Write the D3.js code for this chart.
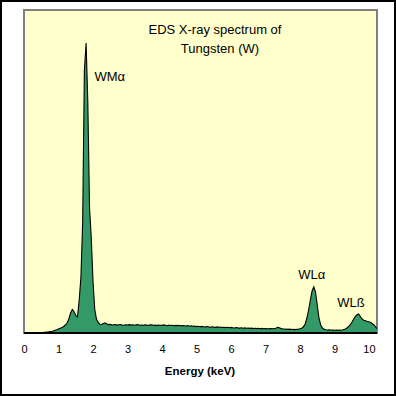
<!DOCTYPE html>
<html>
<head>
<meta charset="utf-8">
<script src="https://cdn.jsdelivr.net/npm/d3@7"></script>
<style>
  body { margin: 0; background: #fff; }
  text { font-family: "Liberation Sans", Arial, sans-serif; }
</style>
</head>
<body>
<div id="chart"></div>
<script>
"use strict";

// EDS spectrum of tungsten, one value per 0.05 keV channel starting at 0 keV
var channelWidth = 0.05;
var counts = [
    0, 0, 0, 0, 0, 0, 0, 0, 0, 0,
    3, 5, 8, 10, 9, 14, 15, 20, 28, 32,
    40, 48, 55, 65, 80, 100, 140, 200, 235, 215,
    175, 160, 330, 560, 1100, 2620, 2900, 2300, 1250, 950,
    520, 240, 140, 105, 88, 85, 95, 102, 90, 84,
    86, 80, 83, 85, 79, 82, 84, 80, 78, 83,
    80, 84, 79, 82, 77, 81, 84, 78, 80, 76,
    82, 79, 75, 81, 83, 77, 79, 74, 80, 78,
    76, 81, 77, 73, 79, 75, 78, 72, 76, 74,
    77, 71, 75, 73, 70, 74, 68, 72, 66, 70,
    64, 68, 62, 66, 63, 60, 65, 61, 58, 63,
    59, 56, 61, 57, 60, 55, 58, 54, 57, 52,
    56, 53, 50, 55, 51, 49, 53, 48, 51, 47,
    50, 46, 49, 45, 48, 44, 47, 43, 46, 42,
    45, 43, 41, 44, 42, 45, 48, 57, 52, 44,
    42, 38, 40, 36, 39, 35, 37, 34, 36, 38,
    42, 48, 62, 90, 150, 230, 330, 420, 462, 410,
    280, 150, 80, 50, 38, 33, 30, 32, 28, 30,
    27, 29, 26, 30, 28, 32, 38, 48, 62, 80,
    105, 135, 165, 182, 190, 165, 140, 128, 122, 115,
    112, 105, 92, 80, 55, 40
];

var xTicks = [0, 1, 2, 3, 4, 5, 6, 7, 8, 9, 10];

var titleLines = ["EDS X-ray spectrum of", "Tungsten (W)"];

// peak labels, anchored at (keV, counts)
var peakNames = ["WMα", "WLα", "WLß"];
var peakLabelEnergy = [2.04, 8.34, 9.48];
var peakLabelCounts = [2570, 590, 313];
var peakAnchor = ["start", "middle", "middle"];

var w = 396, h = 396;
var plotLeft = 24, plotRight = 377, plotTop = 10, plotBottom = 333;

var svg = d3.select("#chart")
    .append("svg")
    .attr("width", w)
    .attr("height", h);

// outer border
svg.append("rect")
    .attr("x", 1)
    .attr("y", 1)
    .attr("width", w - 2)
    .attr("height", h - 2)
    .attr("fill", "#fff")
    .attr("stroke", "#000")
    .attr("stroke-width", 2);

var x = d3.scaleLinear()
    .domain([0, 10.232])
    .range([plotLeft, plotRight]);

var y = d3.scaleLinear()
    .domain([0, 3230])
    .range([plotBottom, plotTop]);

// plot background
svg.append("rect")
    .attr("x", plotLeft)
    .attr("y", plotTop)
    .attr("width", plotRight - plotLeft)
    .attr("height", plotBottom - plotTop)
    .attr("fill", "#ffffcc")
    .attr("stroke", "#808080")
    .attr("stroke-width", 2);

svg.append("clipPath")
    .attr("id", "plotclip")
    .append("rect")
    .attr("x", plotLeft)
    .attr("y", plotTop)
    .attr("width", plotRight - plotLeft)
    .attr("height", plotBottom - plotTop);

var points = counts.map(function(c, i){
    return { e: i * channelWidth, c: c };
});

var area = d3.area()
    .x(function(d){ return x(d.e); })
    .y0(y(0))
    .y1(function(d){ return y(d.c); });

var line = d3.line()
    .x(function(d){ return x(d.e); })
    .y(function(d){ return y(d.c); });

var g = svg.append("g").attr("clip-path", "url(#plotclip)");

g.append("path")
    .datum(points)
    .attr("d", area)
    .attr("fill", "#339966");

g.append("path")
    .datum(points)
    .attr("d", line)
    .attr("fill", "none")
    .attr("stroke", "#000")
    .attr("stroke-width", 1.1);

// x axis (labels only, no tick marks)
var xAxis = d3.axisBottom(x)
    .tickValues(xTicks)
    .tickSize(0)
    .tickPadding(12)
    .tickFormat(d3.format("d"));

var ax = svg.append("g")
    .attr("transform", "translate(0," + plotBottom + ")")
    .call(xAxis);

ax.select(".domain").remove();
ax.selectAll("text")
    .attr("font-family", "Liberation Sans, Arial, sans-serif")
    .attr("font-size", "11px")
    .attr("fill", "#000");

svg.append("line")
    .attr("x1", plotLeft)
    .attr("x2", plotRight)
    .attr("y1", plotBottom)
    .attr("y2", plotBottom)
    .attr("stroke", "#000")
    .attr("stroke-width", 2);

svg.append("text")
    .attr("x", 200)
    .attr("y", 375)
    .attr("text-anchor", "middle")
    .attr("font-size", "11.5px")
    .attr("font-weight", "bold")
    .text("Energy (keV)");

// title
svg.selectAll(".title")
    .data(titleLines)
    .enter()
    .append("text")
    .attr("class", "title")
    .attr("x", function(d, i){ return i == 0 ? 215 : 220; })
    .attr("y", function(d, i){ return 34 + i * 19; })
    .attr("text-anchor", "middle")
    .attr("font-size", "13px")
    .text(function(d){ return d; });

// peak labels
svg.selectAll(".peak")
    .data(peakNames)
    .enter()
    .append("text")
    .attr("class", "peak")
    .attr("x", function(d, i){ return x(peakLabelEnergy[i]); })
    .attr("y", function(d, i){ return y(peakLabelCounts[i]) + 5; })
    .attr("text-anchor", function(d, i){ return peakAnchor[i]; })
    .attr("font-size", "13px")
    .text(function(d){ return d; });
</script>
</body>
</html>
